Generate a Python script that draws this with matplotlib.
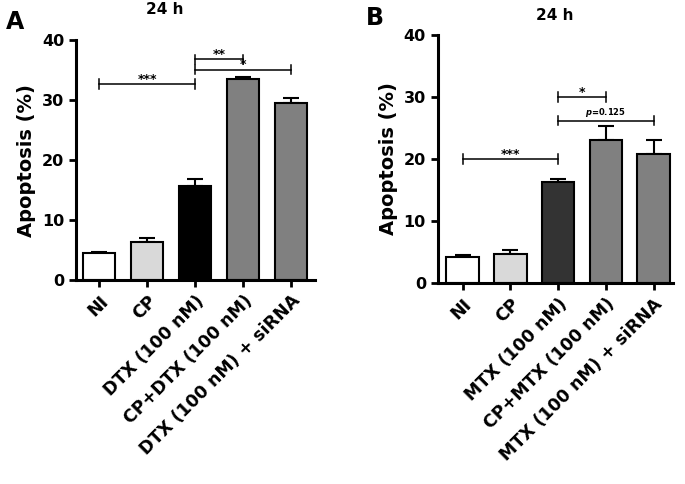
import numpy as np
import matplotlib
matplotlib.use("Agg")
import matplotlib.pyplot as plt

plt.rcParams['font.family'] = ['DejaVu Sans']
plt.rcParams['font.weight'] = 'bold'

# ---------------------------------------------------------------
# data
# ---------------------------------------------------------------
labels_a = ["NI", "CP", "DTX (100 nM)", "CP+DTX (100 nM)", "DTX (100 nM) + siRNA"]
means_a = [4.5, 6.4, 15.6, 33.6, 29.6]
errs_a = [0.2, 0.6, 1.3, 0.3, 0.7]
colors_a = ["white", "#d9d9d9", "black", "#808080", "#808080"]

labels_b = ["NI", "CP", "MTX (100 nM)", "CP+MTX (100 nM)", "MTX (100 nM) + siRNA"]
means_b = [4.2, 4.7, 16.3, 23.0, 20.8]
errs_b = [0.4, 0.6, 0.4, 2.3, 2.3]
colors_b = ["white", "#d9d9d9", "#333333", "#808080", "#808080"]

# significance brackets: (from bar, to bar, y, text)
sig_a = [(0, 2, 32.7, "***"), (2, 3, 36.8, "**"), (2, 4, 35.1, "*")]
sig_b = [(0, 2, 20.0, "***"), (2, 3, 30.0, "*"), (2, 4, 26.2, "p=0.125")]


def draw_panel(ax, labels, means, errs, colors, sigs, xlim):
    x = np.arange(len(labels))
    ax.bar(x, means, width=0.68, color=colors, edgecolor="black", linewidth=1.5, zorder=2)
    ax.errorbar(x, means, yerr=[np.zeros(len(errs)), errs], fmt="none",
                ecolor="black", elinewidth=1.5, capsize=6, capthick=1.5, zorder=1)
    for i, j, y, txt in sigs:
        ax.plot([x[i], x[j]], [y, y], color="black", lw=1.1)
        ax.plot([x[i], x[i]], [y - 0.8, y + 0.8], color="black", lw=1.1)
        ax.plot([x[j], x[j]], [y - 0.8, y + 0.8], color="black", lw=1.1)
        if txt.startswith("p"):
            ax.text((x[i] + x[j]) / 2, y + 0.3, r"$\it{p}$=0.125", ha="center", va="bottom", fontsize=6)
        else:
            ax.text((x[i] + x[j]) / 2, y - 0.3, txt, ha="center", va="bottom", fontsize=9)
    ax.set_xlim(*xlim)
    ax.set_ylim(0, 40)
    ax.set_yticks([0, 10, 20, 30, 40])
    ax.set_xticks(x)
    ax.set_xticklabels(labels, rotation=45, ha="right", rotation_mode="anchor", fontsize=12.5)
    ax.tick_params(axis="y", labelsize=11.5, width=2, length=5)
    ax.tick_params(axis="x", width=2, length=5)
    for s in ["top", "right"]:
        ax.spines[s].set_visible(False)
    for s in ["left", "bottom"]:
        ax.spines[s].set_linewidth(2.2)
    ax.set_ylabel("Apoptosis (%)", fontsize=14, fontweight="bold")


fig = plt.figure(figsize=(6.85, 4.84), dpi=100)
ax1 = fig.add_axes([0.111, 0.4215, 0.349, 0.4955])
ax2 = fig.add_axes([0.639, 0.415, 0.343, 0.513])

draw_panel(ax1, labels_a, means_a, errs_a, colors_a, sig_a, (-0.48, 4.5))
draw_panel(ax2, labels_b, means_b, errs_b, colors_b, sig_b, (-0.52, 4.4))

fig.text(165 / 685, 1 - 10 / 484, "24 h", ha="center", va="center", fontsize=11, fontweight="bold")
fig.text(555 / 685, 1 - 15 / 484, "24 h", ha="center", va="center", fontsize=11, fontweight="bold")
fig.text(15 / 685, 1 - 22 / 484, "A", ha="center", va="center", fontsize=17, fontweight="bold")
fig.text(375 / 685, 1 - 18 / 484, "B", ha="center", va="center", fontsize=17, fontweight="bold")

fig.savefig("out.png", dpi=100)
